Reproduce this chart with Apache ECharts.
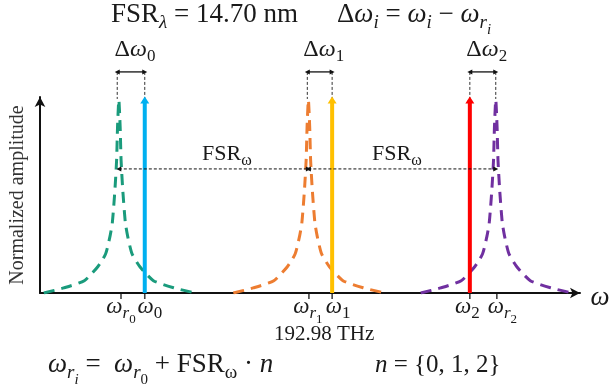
<!DOCTYPE html>
<html><head><meta charset="utf-8">
<script src="https://cdn.jsdelivr.net/npm/echarts@6/dist/echarts.min.js"></script>
<style>html,body{margin:0;padding:0;background:#fff}#c{width:610px;height:392px}</style>
</head><body><div id="c"></div>
<script>
// x: relative optical frequency (a.u., 0-100), y: normalized amplitude
const resonanceCenters = [14.6, 49.7, 84.4];   // ω_r0, ω_r1, ω_r2 (peaks of dashed resonances)
const laserLines = [19.4, 54.1, 79.6];         // ω0, ω1, ω2
const resonanceTicks = [15.0, 49.8, 84.6];
const laserTicks = [19.4, 54.1, 79.6];
const profileOffsets = [-13.9, -10.2, -6.4, -3.9, -2.44, -1.63, -1.2, -0.74, -0.41, -0.24, 0, 0.24, 0.41, 0.74, 1.2, 1.63, 2.44, 3.9, 6.4, 10.2, 13.7];
const profileValues  = [0, 0.026, 0.063, 0.134, 0.2, 0.29, 0.36, 0.52, 0.68, 0.85, 0.985, 0.85, 0.68, 0.52, 0.36, 0.29, 0.2, 0.134, 0.063, 0.026, 0.003];
const laserAmplitude = 0.985;
const fsrLevel = 0.633;
const deltaLevel = 1.128;
const deltaPairs = [[14.3, 19.4], [49.5, 54.1], [79.6, 84.4]];
const tickLabelsR = ['0', '1', '2'];
const tickLabelsW = ['0', '1', '2'];
const centerFreqLabel = '192.98 THz';
const fsrLambdaLabel = '14.70 nm';

const curveColors = ['#1A9B7C', '#ED7D31', '#7030A0'];
const laserColors = ['#00B0F0', '#FFC000', '#FF0000'];
const FONT = 'Liberation Serif';
const TXT = '#1a1a1a';

const chart = echarts.init(document.getElementById('c'), null, {renderer: 'canvas'});
const series = [];
resonanceCenters.forEach((c, i) => {
  series.push({
    type: 'line', silent: true, symbol: 'none', smooth: 0.2,
    data: profileOffsets.map((o, k) => [c + o, profileValues[k]]),
    lineStyle: {color: curveColors[i], width: 3, type: [11, 7]}, z: 2
  });
});
laserLines.forEach((x, i) => {
  series.push({
    type: 'line', silent: true, symbol: 'none', clip: false,
    data: [[x, 0], {value: [x, laserAmplitude], symbol: 'triangle', symbolSize: [9, 7]}],
    itemStyle: {color: laserColors[i]},
    lineStyle: {color: laserColors[i], width: 4}, z: 3
  });
});
// FSR arrows
for (let i = 0; i < resonanceCenters.length - 1; i++) {
  series.push({
    type: 'line', silent: true, symbol: 'none', clip: false,
    data: [
      {value: [resonanceCenters[i], fsrLevel], symbol: 'triangle', symbolSize: [5, 5], symbolRotate: 90},
      {value: [resonanceCenters[i + 1], fsrLevel], symbol: 'triangle', symbolSize: [5, 5], symbolRotate: -90}
    ],
    itemStyle: {color: '#111'},
    lineStyle: {color: '#111', width: 1, type: [3, 2]}, z: 4
  });
}
// Δω arrows and dashed guides
deltaPairs.forEach(p => {
  series.push({
    type: 'line', silent: true, symbol: 'none', clip: false,
    data: [
      {value: [p[0], deltaLevel], symbol: 'triangle', symbolSize: [5, 5], symbolRotate: 90},
      {value: [p[1], deltaLevel], symbol: 'triangle', symbolSize: [5, 5], symbolRotate: -90}
    ],
    itemStyle: {color: '#111'},
    lineStyle: {color: '#111', width: 1.3}, z: 4
  });
  p.forEach(x => {
    series.push({
      type: 'line', silent: true, symbol: 'none', clip: false,
      data: [[x, deltaLevel], [x, laserAmplitude + 0.005]],
      lineStyle: {color: '#333', width: 1, type: [3, 2]}, z: 1
    });
  });
});
// custom ticks
series.push({
  type: 'scatter', silent: true, clip: false,
  data: resonanceTicks.concat(laserTicks).map(x => [x, 0]),
  symbol: 'rect', symbolSize: [1.6, 6], symbolOffset: [0, 3],
  itemStyle: {color: '#111'}, z: 5
});

chart.setOption({
  animation: false,
  backgroundColor: '#fff',
  grid: {left: 40, right: 30, top: 97, bottom: 99},
  xAxis: {
    type: 'value', min: 0, max: 100,
    axisLine: {show: true, symbol: ['none', 'arrow'], symbolSize: [8, 10], lineStyle: {color: '#111', width: 2}},
    axisTick: {show: false}, axisLabel: {show: false}, splitLine: {show: false}
  },
  yAxis: {
    type: 'value', min: 0, max: 1,
    name: 'Normalized amplitude', nameLocation: 'middle', nameGap: 12, nameRotate: 90,
    nameTextStyle: {fontFamily: FONT, fontSize: 20, color: '#333'},
    axisLine: {show: true, symbol: ['none', 'arrow'], symbolSize: [8, 10], lineStyle: {color: '#111', width: 2}},
    axisTick: {show: false}, axisLabel: {show: false}, splitLine: {show: false}
  },
  series
});

function rich(F) {
  const base = {fontFamily: FONT, color: TXT};
  const it = {fontStyle: 'italic'};
  const m = Object.assign({fontSize: F, lineHeight: Math.round(F * 1.7)}, base);
  const s = Object.assign({fontSize: Math.round(F * 0.72), lineHeight: Math.round(F * 0.8), padding: [Math.round(F * 0.6), 0, 0, 0]}, base);
  const ss = Object.assign({fontSize: Math.round(F * 0.56), lineHeight: Math.round(F * 0.6), padding: [Math.round(F * 1.1), 0, 0, 0]}, base);
  return {
    m, mi: Object.assign({}, m, it),
    s, si: Object.assign({}, s, it),
    ss, ssi: Object.assign({}, ss, it)
  };
}
function txt(x, y, text, F, align) {
  return {type: 'text', x, y, silent: true, z: 10,
    style: {text, rich: rich(F), align: align || 'left', verticalAlign: 'middle', fill: TXT, fontFamily: FONT, fontSize: F}};
}
const px = (x, y) => chart.convertToPixel({gridIndex: 0}, [x, y]);
const g = [];
g.push(txt(111, 15, '{m|FSR}{si|λ}{m| = ' + fsrLambdaLabel + '}', 27));
g.push(txt(337, 15, '{m|Δ}{mi|ω}{si|i}{m| = }{mi|ω}{si|i}{m| − }{mi|ω}{si|r}{ssi|i}', 27));
deltaPairs.forEach((p, i) => {
  const a = px((p[0] + p[1]) / 2, deltaLevel);
  g.push(txt(a[0] + 4, a[1] - 22, '{m|Δ}{mi|ω}{s|' + i + '}', 24, 'center'));
});
const axisY = px(0, 0)[1];
const rNudge = [0, -1, 5.5], wNudge = [5, 6, -2.5];
resonanceTicks.forEach((x, i) => {
  g.push(txt(px(x, 0)[0] + rNudge[i], axisY + 14, '{mi|ω}{si|r}{ss|' + tickLabelsR[i] + '}', 23, 'center'));
});
laserTicks.forEach((x, i) => {
  g.push(txt(px(x, 0)[0] + wNudge[i], axisY + 14, '{mi|ω}{s|' + tickLabelsW[i] + '}', 23, 'center'));
});
g.push(txt(px(laserTicks[1], 0)[0] - 8, axisY + 41, '{m|' + centerFreqLabel + '}', 21, 'center'));
g.push(txt(600, axisY + 5, '{mi|ω}', 27, 'center'));
const fy = px(0, fsrLevel)[1];
g.push(txt(202, fy - 15, '{m|FSR}{s|ω}', 22));
g.push(txt(372, fy - 15, '{m|FSR}{s|ω}', 22));
g.push(txt(48, 365, '{mi|ω}{si|r}{ssi|i}{m| =  }{mi|ω}{si|r}{ss|0}{m| + FSR}{s|ω}{m| · }{mi|n}', 27));
g.push(txt(375, 365, '{mi|n}{m| = {0, 1, 2}}', 25));
chart.setOption({graphic: g});
</script></body></html>
